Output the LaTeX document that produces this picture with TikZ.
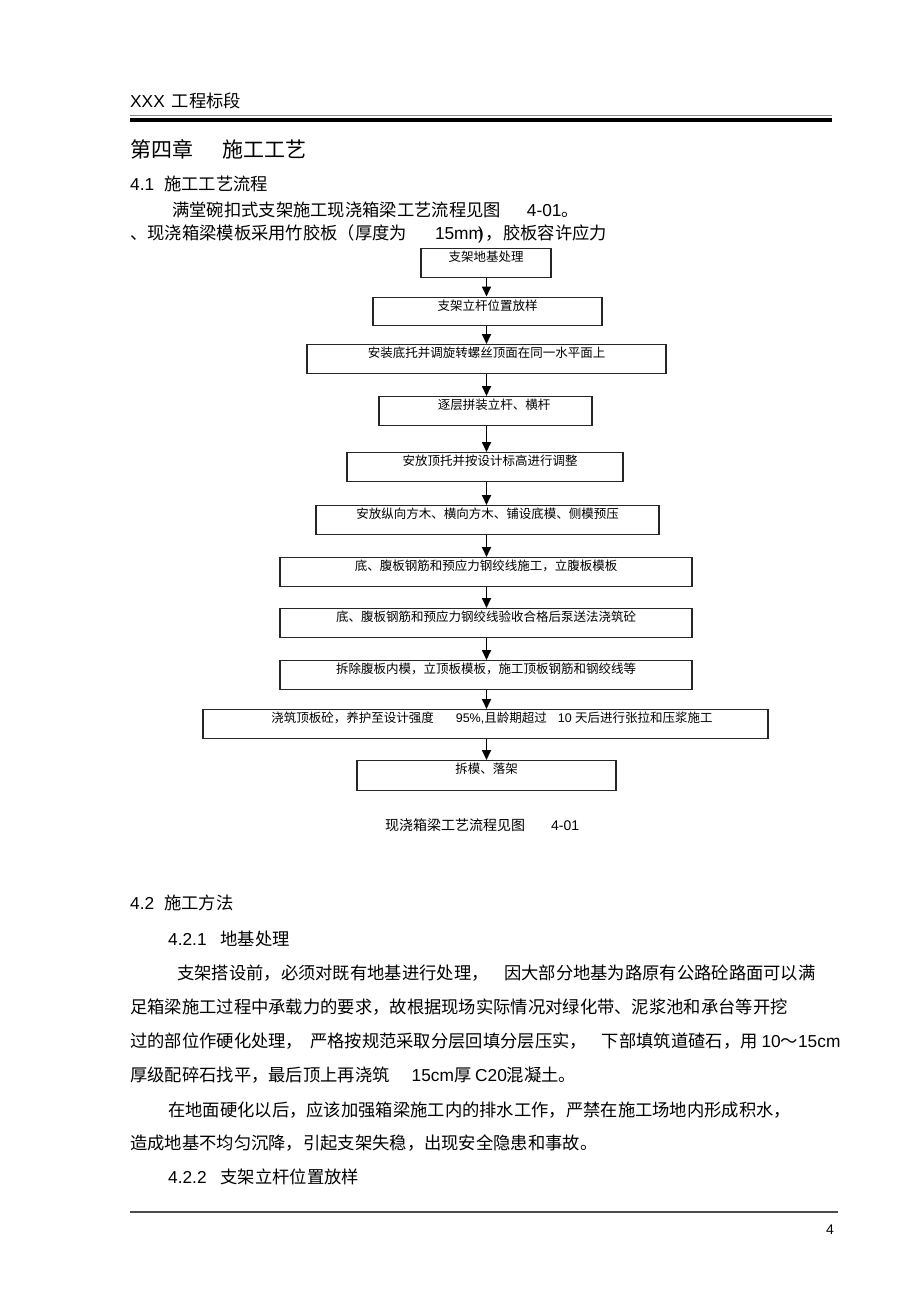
\documentclass[tikz,border=0pt]{standalone}
\usepackage{fontspec}
\setmainfont{Liberation Sans}
\newfontfamily\cjk{Noto Sans CJK SC}
\newfontfamily\lat{Liberation Sans}
\usetikzlibrary{arrows.meta}

\begin{document}
\begin{tikzpicture}[x=1pt,y=-1pt,
	para/.style={anchor=base west,inner sep=0pt,font=\cjk\fontsize{17.3}{20}\selectfont},
	stepbox/.style={draw=black!85,line width=1.2pt,anchor=north,inner sep=0pt,text height=13pt,text depth=15.5pt,font=\cjk\fontsize{12.5}{14}\selectfont},
	flow/.style={->,>={Triangle[length=10pt,width=9pt]},line width=1.7pt}]
	\fill[white] (0,0) rectangle (920,1304);

	% page head
	\node[para] (head) at (130,107.5) {{\lat XXX}\hspace{7pt}工程标段};
	\draw[black!45,line width=1.6pt] (130,115.5) -- (832,115.5);
	\draw[line width=3.2pt] (130,120) -- (832,120);

	\node[para,font=\cjk\fontsize{21}{24}\selectfont] (chap) at (130,157) {第四章\hspace{29pt}施工工艺};
	\node[para] (sec41) at (130,190.6) {{\lat 4.1}\hspace{10pt}施工工艺流程};
	\node[para] (intro) at (172,216.6) {满堂碗扣式支架施工现浇箱梁工艺流程见图\hspace{26pt}{\lat 4-01}。};
	\node[para] (board) at (130,239.6) {、现浇箱梁模板采用竹胶板（厚度为\hspace{28pt}{\lat 15mm\kern-5pt)}\hspace{2pt}，胶板容许应力};

	% flow chart
	\node[stepbox,minimum width=130pt] (s1) at (486,248) {支架地基处理\hspace{31pt}};
	\node[stepbox,minimum width=229pt] (s2) at (487.5,296.5) {支架立杆位置放样\hspace{37pt}};
	\node[stepbox,minimum width=359pt] (s3) at (486.5,344) {安装底托并调旋转螺丝顶面在同一水平面上};
	\node[stepbox,minimum width=213pt] (s4) at (485.5,396) {\hspace{17pt}逐层拼装立杆、横杆};
	\node[stepbox,minimum width=276pt] (s5) at (485,452) {\hspace{10pt}安放顶托并按设计标高进行调整};
	\node[stepbox,minimum width=343pt] (s6) at (487.5,505) {安放纵向方木、横向方木、铺设底模、侧模预压};
	\node[stepbox,minimum width=412pt] (s7) at (486,557) {底、腹板钢筋和预应力钢绞线施工，立腹板模板\hspace{5pt}};
	\node[stepbox,minimum width=412pt] (s8) at (486,608) {底、腹板钢筋和预应力钢绞线验收合格后泵送法浇筑砼\hspace{33pt}};
	\node[stepbox,minimum width=412pt] (s9) at (486,660) {拆除腹板内模，立顶板模板，施工顶板钢筋和钢绞线等\hspace{6pt}};
	\node[stepbox,minimum width=565pt] (s10) at (485.5,709) {\hspace{13pt}浇筑顶板砼，养护至设计强度\hspace{22pt}{\lat 95\%,}且龄期超过\hspace{11pt}{\lat 10 }天后进行张拉和压浆施工};
	\node[stepbox,minimum width=259pt,text depth=17pt] (s11) at (486.5,760) {拆模、落架};

	\coordinate (spine) at (486.5,0);
	\draw[flow] (s1.south -| spine) -- (s2.north -| spine);
	\draw[flow] (s2.south -| spine) -- (s3.north -| spine);
	\draw[flow] (s3.south -| spine) -- (s4.north -| spine);
	\draw[flow] (s4.south -| spine) -- (s5.north -| spine);
	\draw[flow] (s5.south -| spine) -- (s6.north -| spine);
	\draw[flow] (s6.south -| spine) -- (s7.north -| spine);
	\draw[flow] (s7.south -| spine) -- (s8.north -| spine);
	\draw[flow] (s8.south -| spine) -- (s9.north -| spine);
	\draw[flow] (s9.south -| spine) -- (s10.north -| spine);
	\draw[flow] (s10.south -| spine) -- (s11.north -| spine);

	\node[para,font=\cjk\fontsize{14}{16}\selectfont] (cap) at (385,830.3) {现浇箱梁工艺流程见图\hspace{26pt}{\lat 4-01}};

	% section 4.2
	\node[para] (sec42) at (130,909.6) {{\lat 4.2}\hspace{10pt}施工方法};
	\node[para] (sec421) at (168,945.6) {{\lat 4.2.1}\hspace{14pt}地基处理};
	\node[para] (p1) at (177,979.6) {支架搭设前，必须对既有地基进行处理，\hspace{15.6pt}因大部分地基为路原有公路砼路面可以满};
	\node[para] (p2) at (130,1013.6) {足箱梁施工过程中承载力的要求，故根据现场实际情况对绿化带、泥浆池和承台等开挖};
	\node[para] (p3) at (130,1047.6) {过的部位作硬化处理，\hspace{7pt}严格按规范采取分层回填分层压实，\hspace{15pt}下部填筑道碴石，用 {\lat 10}～{\lat 15cm}};
	\node[para] (p4) at (130,1081.6) {厚级配碎石找平，最后顶上再浇筑\hspace{22pt}{\lat 15cm}厚 {\lat C20}混凝土。};
	\node[para] (p5) at (168,1116.6) {在地面硬化以后，应该加强箱梁施工内的排水工作，严禁在施工场地内形成积水，};
	\node[para] (p6) at (130,1149.6) {造成地基不均匀沉降，引起支架失稳，出现安全隐患和事故。};
	\node[para] (sec422) at (168,1183.6) {{\lat 4.2.2}\hspace{14pt}支架立杆位置放样};

	% page foot
	\draw[black!70,line width=1.3pt] (130,1212) -- (838,1212);
	\node[para,font=\lat\fontsize{14}{16}\selectfont] (pageno) at (826,1234) {4};
\end{tikzpicture}
\end{document}
